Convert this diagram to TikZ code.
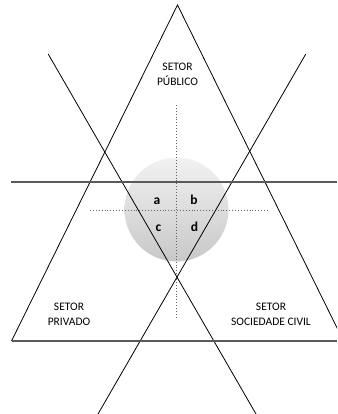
\documentclass[tikz,border=0pt]{standalone}
\usepackage{fontspec}
\setmainfont{Carlito}
\begin{document}
\begin{tikzpicture}[x=1pt,y=-1pt,
  blackline/.style={black,line width=0.8pt},
  hline/.style={color={rgb,255:red,90;green,90;blue,90},line width=1.4pt},
  dotline/.style={color={rgb,255:red,100;green,100;blue,100},line width=1pt,dash pattern=on 0.9pt off 2pt},
  sector/.style={font=\fontsize{11.5}{14.3}\selectfont,align=center,anchor=base,inner sep=0pt},
  quad/.style={font=\fontsize{13.5}{15}\selectfont\bfseries,anchor=base,inner sep=0pt}]
\useasboundingbox (0,0) rectangle (337,414);
\clip (0,0) rectangle (337,414);
% coordinates
\coordinate (apex) at (177.5,5);
\coordinate (bl) at (11.5,341);
\coordinate (br) at (343.5,341);
\coordinate (l1a) at (48.2,54);
\coordinate (l1b) at (256,414);
\coordinate (l2a) at (305.8,54);
\coordinate (l2b) at (98,414);
\coordinate (h1a) at (11,182);
\coordinate (h1b) at (337,182);
\coordinate (h2a) at (11.5,341);
\coordinate (h2b) at (337,341);
\coordinate (v1) at (176.5,105);
\coordinate (v2) at (176.5,318);
\coordinate (d1) at (90,210);
\coordinate (d2) at (267,210);
% circle
\shade[top color={rgb,255:red,242;green,242;blue,242},bottom color={rgb,255:red,200;green,200;blue,200}]
  (176.5,209.5) circle[radius=52];
% dotted axes
\draw[dotline] (v1) -- (v2);
\draw[dotline] (d1) -- (d2);
% upward triangle sides
\draw[blackline] (bl) -- (apex) -- (br);
% crossing lines
\draw[blackline] (l1a) -- (l1b);
\draw[blackline] (l2a) -- (l2b);
% horizontal lines
\draw[hline] (h1a) -- (h1b);
\draw[hline] (h2a) -- (h2b);
% labels
\node[sector] (pub) at (177.5,85.2) {SETOR\\PÚBLICO};
\node[sector] (priv) at (69,325) {SETOR\\PRIVADO};
\node[sector] (civ) at (271,325) {SETOR\\SOCIEDADE CIVIL};
\node[quad] (qa) at (157,204.3) {a};
\node[quad] (qb) at (194,204.3) {b};
\node[quad] (qc) at (158.5,231) {c};
\node[quad] (qd) at (194.5,231) {d};
\end{tikzpicture}
\end{document}
